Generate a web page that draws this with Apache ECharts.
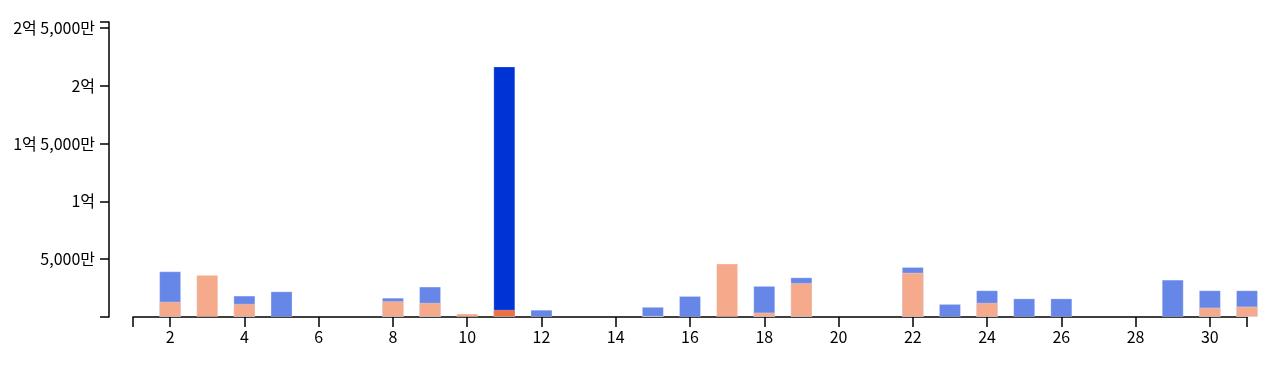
<!DOCTYPE html>
<html>
<head>
<meta charset="utf-8">
<script src="https://cdn.jsdelivr.net/npm/echarts@6/dist/echarts.min.js"></script>
<style>
html,body{margin:0;padding:0;background:#fff;}
#chart{width:1280px;height:367px;}
</style>
</head>
<body>
<div id="chart"></div>
<script>
// Days of the month
const days = ['1','2','3','4','5','6','7','8','9','10','11','12','13','14','15','16','17','18','19','20','21','22','23','24','25','26','27','28','29','30','31'];
// Blue series (won)
const blueValues = [0, 39500000, 0, 18500000, 22200000, 0, 0, 16700000, 26300000, 0, 216600000, 6300000, 0, 0, 8800000, 18200000, 0, 26900000, 34300000, 0, 0, 43300000, 11300000, 23100000, 16100000, 16100000, 0, 0, 32300000, 23100000, 23100000];
// Orange series (won)
const orangeValues = [0, 13300000, 36400000, 11500000, 0, 0, 0, 13800000, 12400000, 3000000, 6300000, 0, 0, 0, 1000000, 0, 46200000, 4000000, 29500000, 0, 0, 38400000, 0, 12400000, 0, 0, 0, 0, 0, 8300000, 9200000];
// Y axis extent and tick step (won)
const yMax = 255000000;
const yStep = 50000000;

const BLUE = '#6686e8', BLUE_HI = '#0033d6';
const ORANGE = '#f5aa8b', ORANGE_HI = '#ef6f3e';
let hiIdx = 0;
blueValues.forEach((v, i) => { if (v > blueValues[hiIdx]) hiIdx = i; });

function fmtKo(v) {
  if (v === 0 || v % yStep !== 0) return '';
  const eok = Math.floor(v / 1e8);
  const man = Math.round((v % 1e8) / 1e4);
  const parts = [];
  if (eok) parts.push(eok + '억');
  if (man) parts.push(man.toLocaleString('en-US') + '만');
  return parts.join(' ');
}

function toItems(arr, color, hiColor) {
  return arr.map((v, i) => v === 0 ? '-' : ({value: v, itemStyle: {color: i === hiIdx ? hiColor : color}}));
}

const font = '"Noto Sans CJK KR", "Noto Sans", sans-serif';
const chart = echarts.init(document.getElementById('chart'), null, {renderer: 'canvas'});
chart.setOption({
  animation: false,
  grid: {left: 133, right: 33, top: 22, bottom: 50, containLabel: false},
  xAxis: {
    type: 'category',
    data: days,
    boundaryGap: false,
    axisLine: {lineStyle: {color: '#000', width: 1.5}},
    axisTick: {
      length: 10,
      lineStyle: {color: '#000', width: 1.5},
      interval: (i) => i === 0 || i === days.length - 1 || (i + 1) % 2 === 0
    },
    axisLabel: {
      interval: (i) => (i + 1) % 2 === 0,
      color: '#000', fontSize: 16, fontFamily: font, margin: 12
    },
    splitLine: {show: false}
  },
  yAxis: {
    type: 'value',
    min: 0, max: yMax, interval: yStep,
    offset: 24,
    axisLine: {show: true, lineStyle: {color: '#000', width: 1.5}},
    axisTick: {show: true, length: 9, lineStyle: {color: '#000', width: 1.5}},
    axisLabel: {formatter: fmtKo, color: '#000', fontSize: 16, fontFamily: font, margin: 14},
    splitLine: {show: false}
  },
  series: [
    {
      type: 'bar', name: 'blue', barWidth: 22, barGap: '-100%', clip: false,
      data: toItems(blueValues, BLUE, BLUE_HI),
      itemStyle: {borderColor: 'rgba(255,255,255,0.25)', borderWidth: 1}
    },
    {
      type: 'bar', name: 'orange', barWidth: 22, barGap: '-100%', clip: false,
      data: toItems(orangeValues, ORANGE, ORANGE_HI),
      itemStyle: {borderColor: 'rgba(255,255,255,0.25)', borderWidth: 1}
    }
  ]
});
</script>
</body>
</html>
